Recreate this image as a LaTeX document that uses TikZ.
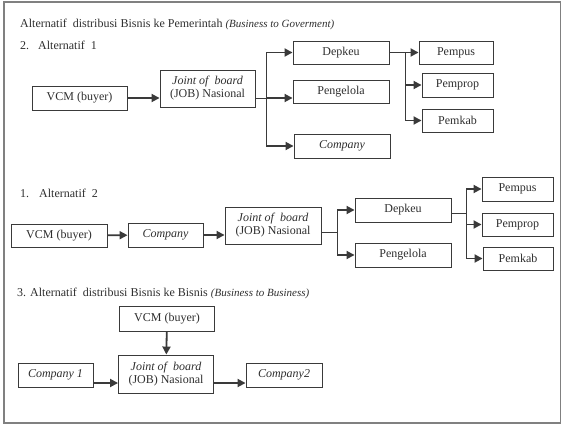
\documentclass[tikz,border=0pt]{standalone}
\usepackage{fontspec}
\setmainfont{Liberation Serif}
\usetikzlibrary{arrows.meta,positioning}

\definecolor{boxgray}{HTML}{3A3A3A}
\definecolor{txtgray}{HTML}{2E2E2E}
\definecolor{framegray}{HTML}{808080}

\tikzset{
  box/.style={draw=boxgray, line width=0.9pt, inner sep=0pt, text=txtgray,
              minimum height=24pt, align=center,
              font=\fontsize{12}{13}\selectfont},
  jobbox/.style={box, minimum width=95pt, minimum height=37pt},
  link/.style={draw=boxgray, line width=0.8pt},
  arr/.style={draw=boxgray, line width=1.8pt,
              -{Triangle[length=8pt,width=8pt]}},
  head/.style={anchor=base west, inner sep=0pt, text=txtgray,
               font=\fontsize{12}{13}\selectfont}
}

\newcommand{\jobtext}{\textit{Joint of\ \ board}\\(JOB) Nasional}

\begin{document}
\begin{tikzpicture}[x=1pt,y=-1pt]

\useasboundingbox (0,0) rectangle (562,428);

% outer frame
\draw[framegray, line width=1.2pt] (4,2) rectangle (560.5,423);

% ===============================================================
% Business to Government: Alternatif 1
% ===============================================================

\node[head] (titleA) at (20,28) {Alternatif\ \ distribusi Bisnis ke Pemerintah {\fontsize{11}{12}\selectfont\itshape(Business to Goverment)}};
\node[head] (altA) at (20,49) {2.\hspace{9pt}Alternatif\ \ 1};

\node[box, minimum width=95pt] (vcmA)     at (79.5,98)   {VCM (buyer)};
\node[jobbox]                 (jobA)     at (207.5,88.5) {\jobtext};
\node[box, minimum width=96pt, minimum height=23pt] (depA)  at (341,52.5) {Depkeu};
\node[box, minimum width=96pt, minimum height=23pt] (pengA) at (341,91.5) {Pengelola};
\node[box, minimum width=96pt] (compA)    at (342,146)   {\textit{Company}};
\node[box, minimum width=74pt, minimum height=23pt] (pempusA)  at (456,52.5) {Pempus};
\node[box, minimum width=71pt] (pempropA) at (457.5,85)  {Pemprop};
\node[box, minimum width=71pt, minimum height=23pt] (pemkabA)  at (457.5,120.5) {Pemkab};

\coordinate (jA) at (266,98);
\coordinate (kA) at (405,52.5);

\draw[arr] (vcmA) -- (vcmA -| jobA.west);
\draw[link] (jA -| jobA.east) -- (jA);
\draw[link] (jA |- depA) -- (jA |- compA);
\draw[arr] (jA |- depA) -- (depA);
\draw[arr] (jA) -- (jA -| pengA.west);
\draw[arr] (jA |- compA) -- (compA);

\draw[link] (depA) -- (kA);
\draw[link] (kA) -- (kA |- pemkabA);
\foreach \n in {pempusA,pempropA,pemkabA}
  \draw[arr] (kA |- \n) -- (\n);

% ===============================================================
% Business to Government: Alternatif 2
% ===============================================================

\node[head] (altB) at (20,197) {1.\hspace{10pt}Alternatif\ \ 2};

\node[box, minimum width=96pt, minimum height=23pt] (vcmB) at (59,235.5) {VCM (buyer)};
\node[box, minimum width=75pt] (compB) at (165.5,235) {\textit{Company}};
\node[jobbox, minimum width=96pt] (jobB) at (273,225.5) {\jobtext};
\node[box, minimum width=96pt] (depB)  at (403,210) {Depkeu};
\node[box, minimum width=96pt] (pengB) at (403,255) {Pengelola};
\node[box, minimum width=71pt] (pempusB)  at (517.5,189)   {Pempus};
\node[box, minimum width=71pt, minimum height=23pt] (pempropB) at (517.5,224.5) {Pemprop};
\node[box, minimum width=70pt, minimum height=23pt] (pemkabB)  at (518,258.5)   {Pemkab};

\coordinate (jB) at (337,232);
\coordinate (kB) at (466,213);

\draw[arr] (vcmB) -- (compB);
\draw[arr] (compB) -- (compB -| jobB.west);
\draw[link] (jB -| jobB.east) -- (jB);
\draw[link] (jB |- depB) -- (jB |- pengB);
\foreach \n in {depB,pengB}
  \draw[arr] (jB |- \n) -- (\n);

\draw[link] (kB -| depB.east) -- (kB);
\draw[link] (kB |- pempusB) -- (kB |- pemkabB);
\foreach \n in {pempusB,pempropB,pemkabB}
  \draw[arr] (kB |- \n) -- (\n);

% ===============================================================
% Business to Business
% ===============================================================

\node[head] (titleC) at (17,296) {3. Alternatif\ \ distribusi Bisnis ke Bisnis {\fontsize{11}{12}\selectfont\itshape(Business to Business)}};

\node[box, minimum width=95pt, minimum height=25pt] (vcmC) at (167,318.5) {VCM (buyer)};
\node[jobbox, minimum height=38pt] (jobC) at (166,374) {\jobtext};
\node[box, minimum width=75pt] (compC1) at (55.5,375) {\textit{Company 1}};
\node[box, minimum width=76pt] (compC2) at (284,375) {\textit{Company2}};

\draw[arr] (vcmC) -- (jobC);
\draw[arr] ([yshift=-8pt]compC1.east) -- ([yshift=-8pt]compC1.east -| jobC.west);
\draw[arr] ([yshift=-9pt]jobC.east) -- ([yshift=-9pt]jobC.east -| compC2.west);

\end{tikzpicture}
\end{document}
